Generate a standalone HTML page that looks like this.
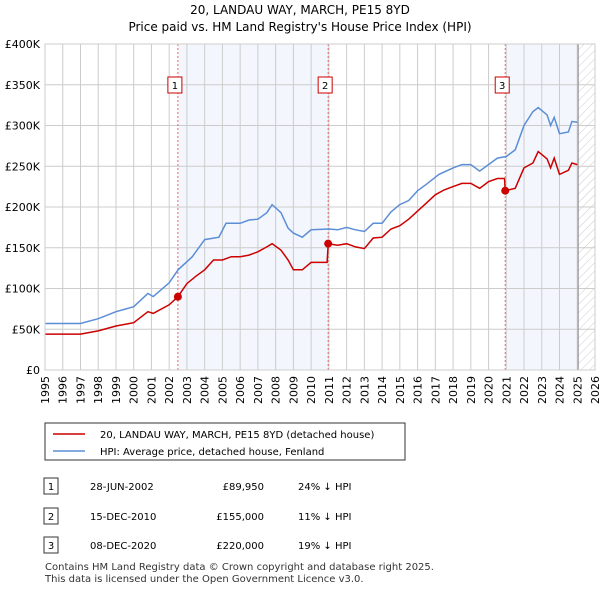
<!DOCTYPE html>
<html><head><meta charset="utf-8"><style>
body{margin:0;background:#fff;font-family:"Liberation Sans","DejaVu Sans",sans-serif;}
#wrap{position:relative;width:600px;height:590px;}
</style></head><body><div id="wrap">
<svg id="c" width="600" height="590" xmlns="http://www.w3.org/2000/svg" font-family="DejaVu Sans, Liberation Sans, sans-serif">
<text x="300" y="14" text-anchor="middle" font-size="12">20, LANDAU WAY, MARCH, PE15 8YD</text>
<text x="300" y="31" text-anchor="middle" font-size="12">Price paid vs. HM Land Registry's House Price Index (HPI)</text>
<defs><pattern id="hatch" width="6" height="6" patternUnits="userSpaceOnUse" patternTransform="rotate(45)"><line x1="0" y1="0" x2="0" y2="6" stroke="#ccc" stroke-width="1"/></pattern></defs>
<g id="plot"></g>
<g>
<rect x="45" y="423" width="360" height="37" fill="#fff" stroke="#333" stroke-width="1"/>
<line x1="53" y1="434" x2="85" y2="434" stroke="#cc0000" stroke-width="1.5"/>
<text x="100" y="438" font-size="10">20, LANDAU WAY, MARCH, PE15 8YD (detached house)</text>
<line x1="53" y1="451" x2="85" y2="451" stroke="#5b8ed6" stroke-width="1.5"/>
<text x="100" y="455" font-size="10">HPI: Average price, detached house, Fenland</text>
</g>
<g font-size="10">
<rect x="44" y="478" width="14" height="16" fill="#fff" stroke="#333"/><text x="51" y="490" text-anchor="middle">1</text>
<text x="90" y="490">28-JUN-2002</text><text x="264" y="490" text-anchor="end">£89,950</text><text x="298" y="490">24% ↓ HPI</text>
<rect x="44" y="508" width="14" height="16" fill="#fff" stroke="#333"/><text x="51" y="520" text-anchor="middle">2</text>
<text x="90" y="520">15-DEC-2010</text><text x="264" y="520" text-anchor="end">£155,000</text><text x="298" y="520">11% ↓ HPI</text>
<rect x="44" y="537" width="14" height="16" fill="#fff" stroke="#333"/><text x="51" y="549" text-anchor="middle">3</text>
<text x="90" y="549">08-DEC-2020</text><text x="264" y="549" text-anchor="end">£220,000</text><text x="298" y="549">19% ↓ HPI</text>
</g>
<text x="45" y="570" font-size="10" fill="#333">Contains HM Land Registry data © Crown copyright and database right 2025.</text>
<text x="45" y="582" font-size="10" fill="#333">This data is licensed under the Open Government Licence v3.0.</text>
</svg></div>
<script>
const hpiYears=[1995,1996,1997,1998,1999,2000,2000.8,2001.1,2002,2002.5,2003.3,2004,2004.8,2005.2,2006,2006.5,2007,2007.5,2007.8,2008.3,2008.7,2009,2009.5,2010,2011,2011.5,2012,2012.5,2013,2013.5,2014,2014.5,2015,2015.5,2016,2016.5,2017.2,2018,2018.5,2019,2019.5,2020,2020.5,2021,2021.5,2022,2022.5,2022.8,2023.3,2023.5,2023.7,2024,2024.5,2024.7,2025];
const hpiValues=[57,57,57,63,71.5,77.7,94,90,107,123,139,160,163,180,180,184,185,193,203,193,174,168,163,172,173,172,175,172,170,180,180,194,203,208,220,228,240,248,252,252,244,252,260,262,270,300,317,322,313,300,310,290,292,305,304];
const ppYears=[1995,1996,1997,1998,1999,2000,2000.8,2001.1,2002,2002.49,2003,2003.5,2004,2004.5,2005,2005.5,2006,2006.5,2007,2007.5,2007.8,2008.3,2008.7,2009,2009.5,2010,2010.9,2010.96,2011.5,2012,2012.5,2013,2013.5,2014,2014.5,2015,2015.5,2016,2016.5,2017,2017.5,2018,2018.5,2019,2019.5,2020,2020.5,2020.9,2020.94,2021.5,2022,2022.5,2022.8,2023.3,2023.5,2023.7,2024,2024.5,2024.7,2025];
const ppValues=[44,44,44,48,54,58,71.5,69.5,80,89.95,106,115,123,135,135,139,139,141,145,151,155,147,135,123,123,132,132,155,153,155,151,149,162,163,173,177,185,195,205,215,221,225,229,229,223,231,235,235,220,223,248,254,268,259,248,260,240,245,254,252];
const saleYears=[2002.49,2010.96,2020.94];
const saleValues=[89.95,155,220];
const saleLabels=["1","2","3"];
const yTicks=[0,50,100,150,200,250,300,350,400];
const yTickLabels=["£0","£50K","£100K","£150K","£200K","£250K","£300K","£350K","£400K"];
const xTicks=[];for(let y=1995;y<=2026;y++)xTicks.push(y);

const X0=45,X1=595,Y0=370,Y1=44,END=2025.05;
const xs=v=>X0+(v-1995)/(2026-1995)*(X1-X0);
const ys=v=>Y0-v/400*(Y0-Y1);
const NS="http://www.w3.org/2000/svg";
const g=document.getElementById('plot');
function mk(t,a){const e=document.createElementNS(NS,t);for(const k in a)e.setAttribute(k,a[k]);g.appendChild(e);return e;}
let r=mk('rect',{x:xs(saleYears[0]),y:Y1,width:xs(saleYears[1])-xs(saleYears[0]),height:Y0-Y1,fill:'#eef3fc',opacity:0.7});


r=mk('rect',{x:xs(saleYears[2]),y:Y1,width:xs(END)-xs(saleYears[2]),height:Y0-Y1,fill:'#eef3fc',opacity:0.7});


r=mk('rect',{x:xs(END),y:Y1,width:X1-xs(END),height:Y0-Y1,fill:'url(#hatch)'});


xTicks.forEach((t,i)=>{
 const l=mk('line',{x1:xs(t),x2:xs(t),y1:Y1,y2:Y0,stroke:'#ccc','stroke-width':1});
 
 
 const tx=mk('text',{x:0,y:0,'font-size':11,'text-anchor':'end',transform:`translate(${xs(t)+4},376) rotate(-90)`});
 tx.textContent=t;
 
 
});
yTicks.forEach((t,i)=>{
 const l=mk('line',{x1:X0,x2:X1,y1:ys(t),y2:ys(t),stroke:'#ccc','stroke-width':1});
 
 
 const tx=mk('text',{x:40,y:ys(t)+4,'font-size':11,'text-anchor':'end'});
 tx.textContent=yTickLabels[i];
 
 
});
const ln=mk('line',{x1:xs(END),x2:xs(END),y1:Y1,y2:Y0,stroke:'#888','stroke-width':1});


saleYears.forEach((s,i)=>{
 const l=mk('line',{x1:xs(s),x2:xs(s),y1:Y1,y2:Y0,stroke:'#e66','stroke-width':1,'stroke-dasharray':'2,2'});
 
 
});
function path(xa,va,color,name){
 const d=xa.map((x,i)=>(i?'L':'M')+xs(x).toFixed(1)+','+ys(va[i]).toFixed(1)).join('');
 const p=mk('path',{d,fill:'none',stroke:color,'stroke-width':1.5});
 
 
}
path(hpiYears,hpiValues,'#5b8ed6','hpi-line');
path(ppYears,ppValues,'#cc0000','price-paid-line');
saleYears.forEach((s,i)=>{
 const c=mk('circle',{cx:xs(s),cy:ys(saleValues[i]),r:4,fill:'#cc0000'});
 
 
 const b=mk('rect',{x:xs(s)-10,y:77,width:14,height:16,fill:'#fff',stroke:'#cc0000'});
 
 
 const t=mk('text',{x:xs(s)-3,y:89,'font-size':10,'text-anchor':'middle'});
 t.textContent=saleLabels[i];
 
 
});
const bd=mk('rect',{x:X0,y:Y1,width:X1-X0,height:Y0-Y1,fill:'none',stroke:'#ccc'});


</script></body></html>
